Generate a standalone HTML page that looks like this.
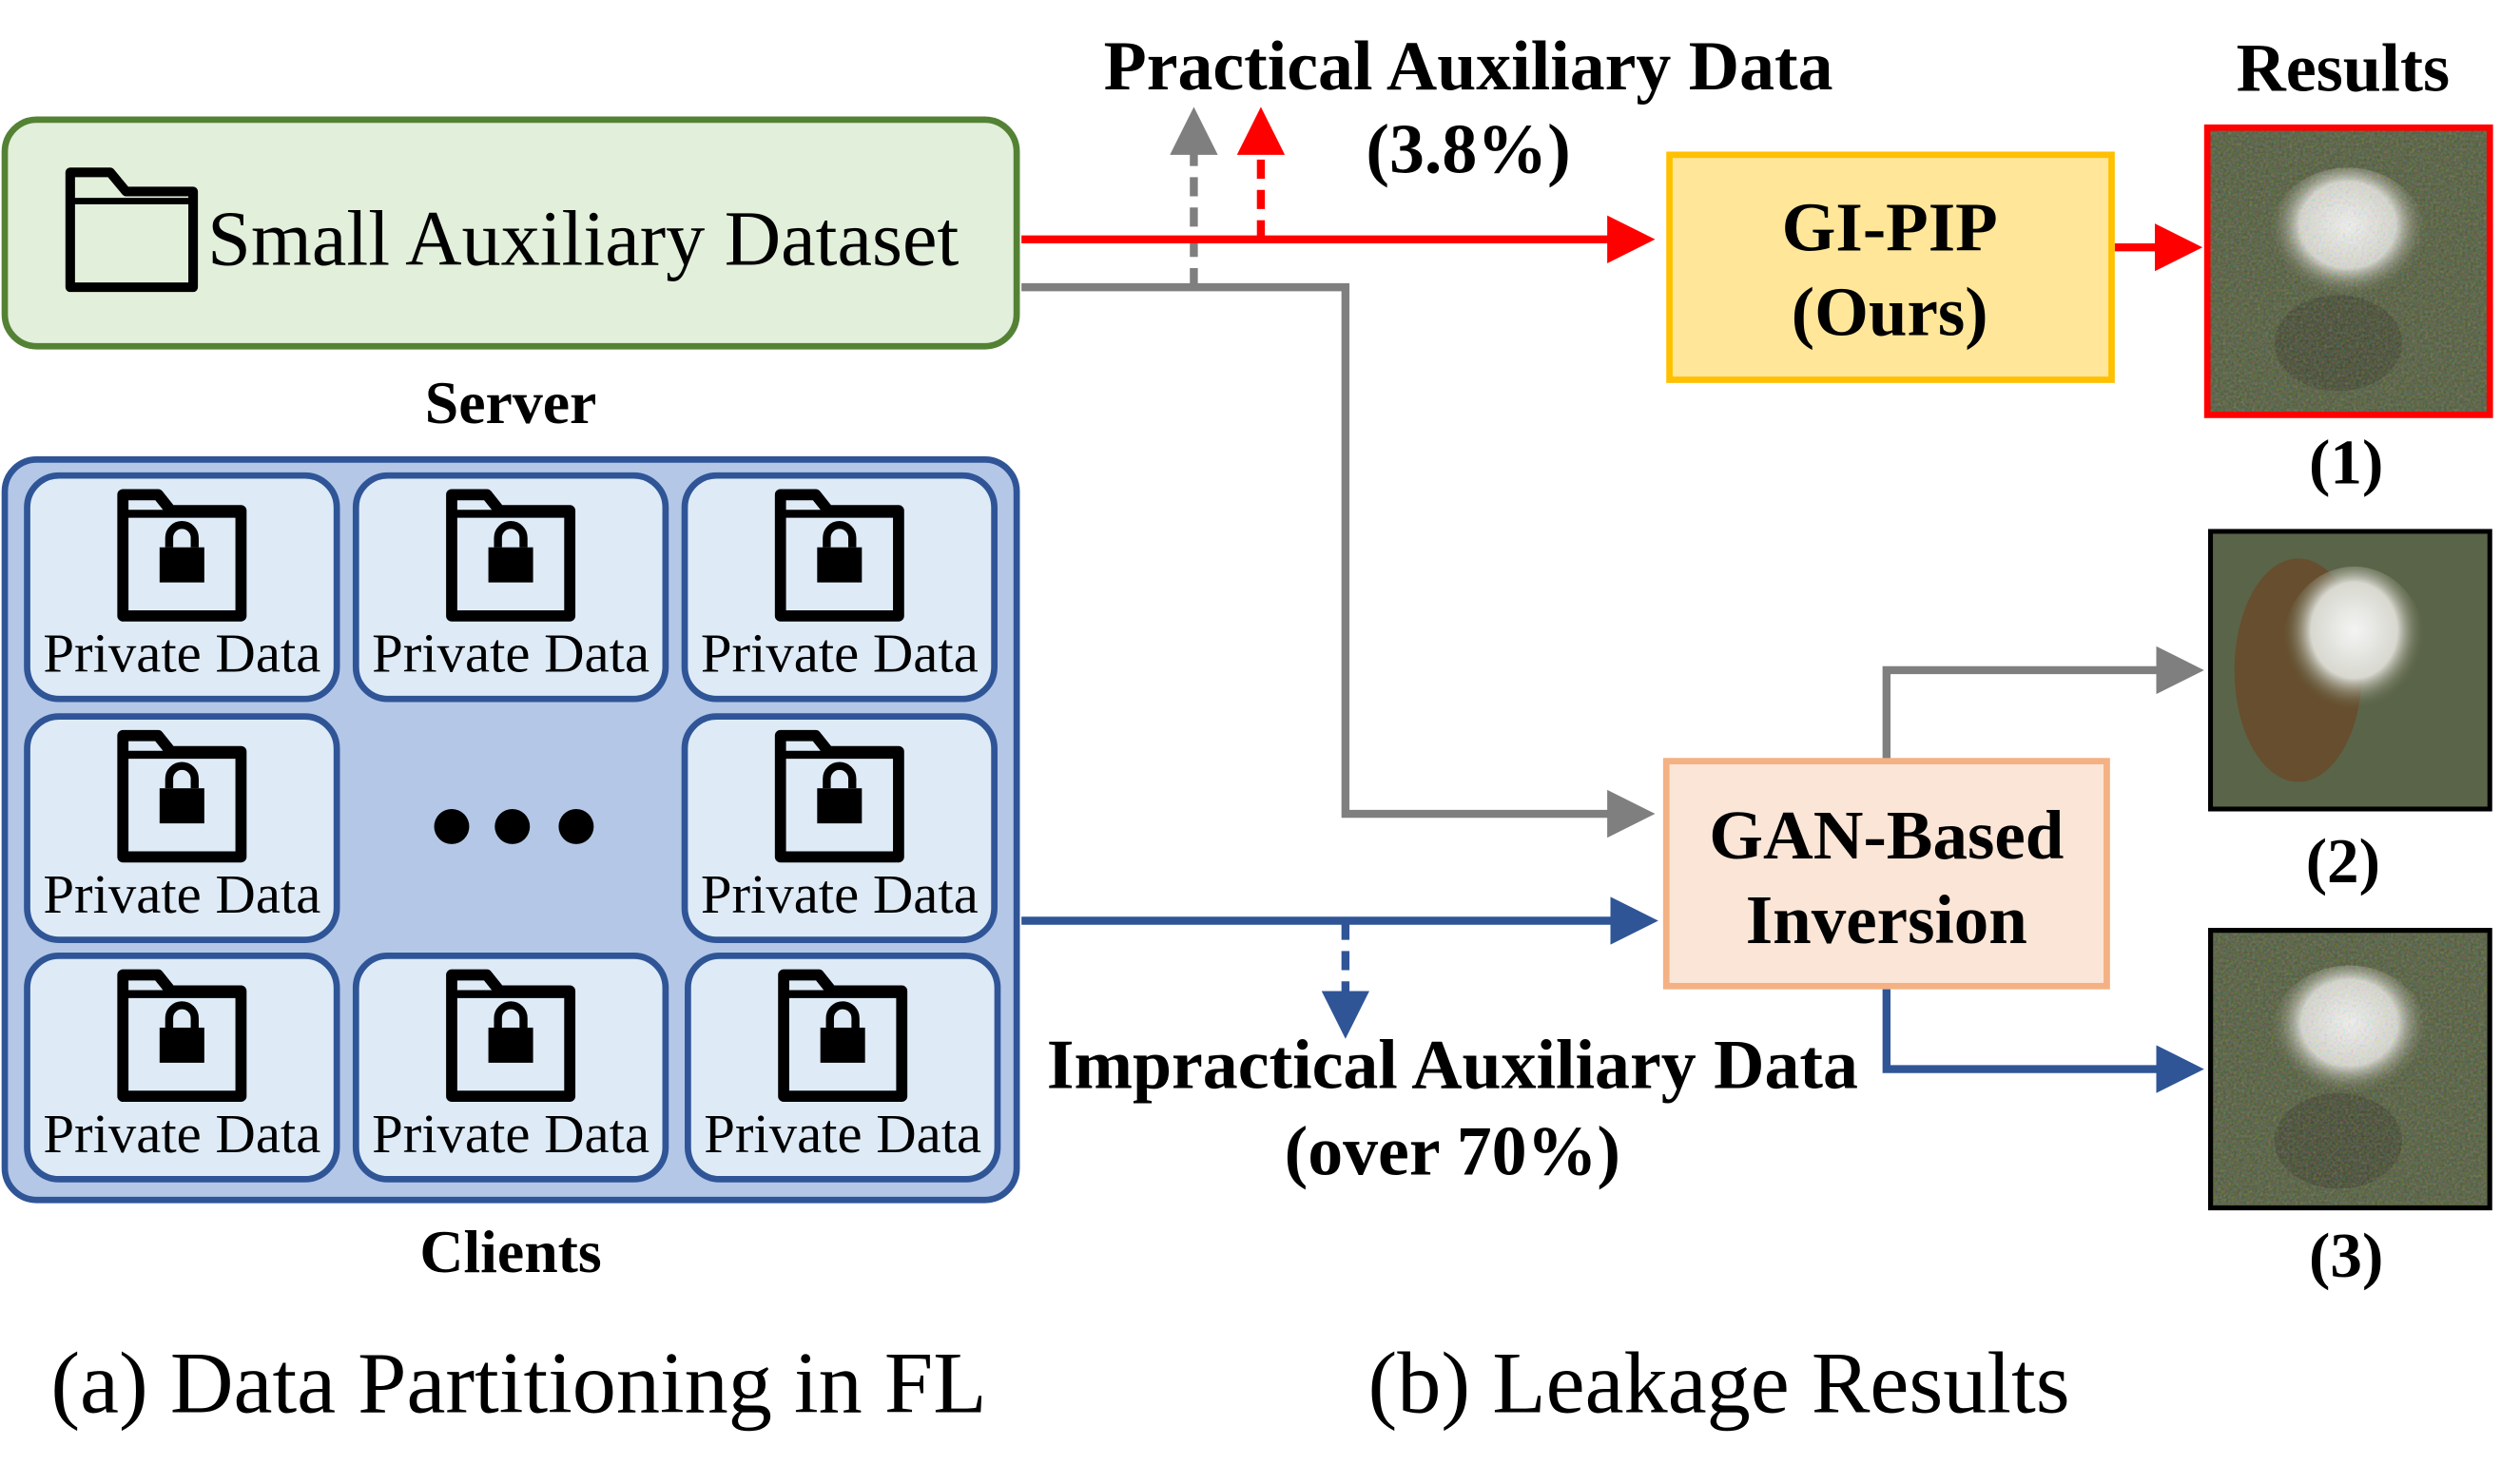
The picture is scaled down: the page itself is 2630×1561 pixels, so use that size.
<!DOCTYPE html>
<html><head><meta charset="utf-8"><style>
html,body{margin:0;padding:0;background:#fff;}
svg{display:block;width:2630px;height:1561px;}
text{font-family:"Liberation Serif",serif;}
</style></head><body>
<svg viewBox="0 0 1567 930" preserveAspectRatio="none" xmlns="http://www.w3.org/2000/svg">
<defs>
<marker id="ar" markerWidth="6" markerHeight="6" refX="3" refY="3" orient="auto" markerUnits="strokeWidth"><path d="M0,0 L6,3 L0,6 z" fill="#ff0000"/></marker>
<marker id="ag" markerWidth="6" markerHeight="6" refX="3" refY="3" orient="auto" markerUnits="strokeWidth"><path d="M0,0 L6,3 L0,6 z" fill="#7f7f7f"/></marker>
<marker id="ab" markerWidth="6" markerHeight="6" refX="3" refY="3" orient="auto" markerUnits="strokeWidth"><path d="M0,0 L6,3 L0,6 z" fill="#2f5597"/></marker>
<g id="lock">
<path d="M-37,-38 h22 l8,10 h44 v66 h-74 z" fill="none" stroke="#000" stroke-width="7" stroke-linejoin="round"/>
<path d="M-37,-26 h74" stroke="#000" stroke-width="5"/>
<rect x="-14" y="-5" width="28" height="22" fill="#000"/>
<path d="M-8,-5 v-6 a8,8 0 0 1 16,0 v6" fill="none" stroke="#000" stroke-width="5"/>
</g>
<g id="cell">
<rect x="0" y="0" width="194" height="140" rx="20" fill="#deebf7" stroke="#2f5597" stroke-width="4"/>
<use href="#lock" x="97" y="50"/>
<text x="97" y="123" font-size="35" text-anchor="middle">Private Data</text>
</g>
<radialGradient id="fig" cx="0.5" cy="0.4" r="0.5"><stop offset="0" stop-color="#f4f4f4"/><stop offset="0.6" stop-color="#d8d8d0"/><stop offset="1" stop-color="#5a6040" stop-opacity="0"/></radialGradient>
<filter id="noise"><feTurbulence type="fractalNoise" baseFrequency="0.6" numOctaves="2"/><feColorMatrix type="saturate" values="2"/><feComponentTransfer><feFuncA type="linear" slope="0.35"/></feComponentTransfer><feComposite in2="SourceGraphic" operator="in"/></filter>
</defs>

<rect x="3" y="75" width="634" height="142" rx="20" fill="#e2efda" stroke="#548235" stroke-width="4"/>
<path d="M44,108 h25 l10,12 h42 v60 h-77 z" fill="none" stroke="#000" stroke-width="6" stroke-linejoin="round"/>
<path d="M44,126 h77" stroke="#000" stroke-width="4"/>
<text x="130" y="166" font-size="49">Small Auxiliary Dataset</text>
<text x="320" y="265" font-size="38" font-weight="bold" text-anchor="middle">Server</text>

<rect x="3" y="288" width="634" height="464" rx="20" fill="#b4c7e7" stroke="#2f5597" stroke-width="4"/>
<use href="#cell" x="17" y="298"/>
<use href="#cell" x="223" y="298"/>
<use href="#cell" x="429" y="298"/>
<use href="#cell" x="17" y="449"/>
<use href="#cell" x="429" y="449"/>
<use href="#cell" x="17" y="599"/>
<use href="#cell" x="223" y="599"/>
<use href="#cell" x="431" y="599"/>
<circle cx="283" cy="518" r="11"/><circle cx="321" cy="518" r="11"/><circle cx="361" cy="518" r="11"/>
<text x="320" y="797" font-size="38" font-weight="bold" text-anchor="middle">Clients</text>

<text x="325" y="885" font-size="55" text-anchor="middle">(a) Data Partitioning in FL</text>
<text x="1077" y="885" font-size="55" text-anchor="middle">(b) Leakage Results</text>

<polyline points="640,180 843,180 843,510 1022,510" fill="none" stroke="#7f7f7f" stroke-width="5" marker-end="url(#ag)"/>
<line x1="748" y1="180" x2="748" y2="82" stroke="#7f7f7f" stroke-width="5" stroke-dasharray="12,7" marker-end="url(#ag)"/>
<line x1="640" y1="150" x2="1022" y2="150" stroke="#ff0000" stroke-width="5" marker-end="url(#ar)"/>
<line x1="790" y1="150" x2="790" y2="82" stroke="#ff0000" stroke-width="5" stroke-dasharray="12,7" marker-end="url(#ar)"/>
<line x1="1325" y1="155" x2="1365" y2="155" stroke="#ff0000" stroke-width="5" marker-end="url(#ar)"/>
<line x1="640" y1="577" x2="1024" y2="577" stroke="#2f5597" stroke-width="5" marker-end="url(#ab)"/>
<line x1="843" y1="577" x2="843" y2="636" stroke="#2f5597" stroke-width="5" stroke-dasharray="12,7" marker-end="url(#ab)"/>
<polyline points="1182,618 1182,670 1366,670" fill="none" stroke="#2f5597" stroke-width="5" marker-end="url(#ab)"/>
<polyline points="1182,477 1182,420 1366,420" fill="none" stroke="#7f7f7f" stroke-width="5" marker-end="url(#ag)"/>

<rect x="1046" y="97" width="277" height="141" fill="#ffe699" stroke="#ffc000" stroke-width="4"/>
<text x="1184" y="157" font-size="43.5" font-weight="bold" text-anchor="middle">GI-PIP</text>
<text x="1184" y="210" font-size="43.5" font-weight="bold" text-anchor="middle">(Ours)</text>
<rect x="1044" y="477" width="276" height="141" fill="#fbe5d6" stroke="#f4b183" stroke-width="4"/>
<text x="1182" y="538" font-size="43.5" font-weight="bold" text-anchor="middle">GAN-Based</text>
<text x="1182" y="591" font-size="43.5" font-weight="bold" text-anchor="middle">Inversion</text>

<text x="920" y="56" font-size="44" font-weight="bold" text-anchor="middle">Practical Auxiliary Data</text>
<text x="920" y="108" font-size="44" font-weight="bold" text-anchor="middle">(3.8%)</text>
<text x="910" y="682" font-size="44" font-weight="bold" text-anchor="middle">Impractical Auxiliary Data</text>
<text x="910" y="736" font-size="44" font-weight="bold" text-anchor="middle">(over 70%)</text>
<text x="1468" y="57" font-size="43" font-weight="bold" text-anchor="middle">Results</text>

<rect x="1383" y="80" width="177" height="180" fill="#4e5838" stroke="#ff0000" stroke-width="4"/>
<ellipse cx="1471" cy="150" rx="50" ry="45" fill="url(#fig)"/>
<ellipse cx="1465" cy="215" rx="40" ry="30" fill="#3a3e2a" opacity="0.7"/>
<rect x="1385" y="82" width="173" height="176" fill="#fff" filter="url(#noise)"/>
<text x="1470" y="303" font-size="40" font-weight="bold" text-anchor="middle">(1)</text>

<rect x="1385" y="333" width="175" height="174" fill="#5a6448" stroke="#000" stroke-width="3"/>
<ellipse cx="1440" cy="420" rx="40" ry="70" fill="#6a4828" opacity="0.8"/>
<ellipse cx="1475" cy="405" rx="45" ry="50" fill="url(#fig)"/>
<text x="1468" y="553" font-size="40" font-weight="bold" text-anchor="middle">(2)</text>

<rect x="1385" y="583" width="175" height="174" fill="#4e5838" stroke="#000" stroke-width="3"/>
<ellipse cx="1472" cy="650" rx="50" ry="45" fill="url(#fig)"/>
<ellipse cx="1465" cy="715" rx="40" ry="30" fill="#3a3e2a" opacity="0.7"/>
<rect x="1387" y="585" width="171" height="170" fill="#fff" filter="url(#noise)"/>
<text x="1470" y="800" font-size="40" font-weight="bold" text-anchor="middle">(3)</text>
</svg>
</body></html>
